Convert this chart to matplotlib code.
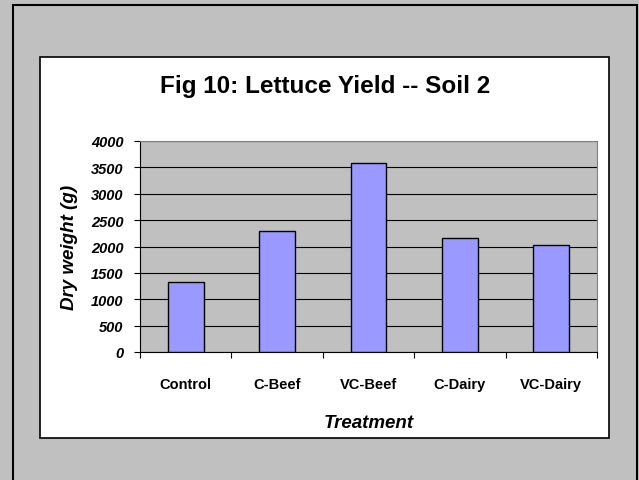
import matplotlib
matplotlib.use('Agg')
import matplotlib.pyplot as plt
from matplotlib.patches import Rectangle

treatments = ['Control', 'C-Beef', 'VC-Beef', 'C-Dairy', 'VC-Dairy']
dry_weight = [1330, 2300, 3590, 2160, 2030]
y_ticks = [0, 500, 1000, 1500, 2000, 2500, 3000, 3500, 4000]

plt.rcParams['font.family'] = ['Liberation Sans', 'DejaVu Sans']

W, H = 639, 481
fig = plt.figure(figsize=(W / 100, H / 100), dpi=100)
fig.patch.set_facecolor('#C0C0C0')

# outer frame and white chart area (pixel coords -> figure fraction)
def box(x0, y0, x1, y1, **kw):
    return Rectangle((x0 / W, 1 - y1 / H), (x1 - x0) / W, (y1 - y0) / H,
                     transform=fig.transFigure, zorder=-5, **kw)

fig.patches.append(box(13, 6, 637, 490, facecolor='none', edgecolor='black', lw=1.5))
fig.patches.append(box(40, 58, 609, 439, facecolor='white', edgecolor='black', lw=1.2))

ax = fig.add_axes([140 / W, 1 - 353 / H, (597 - 140) / W, (353 - 142) / H])
ax.set_facecolor('#C0C0C0')

x = range(len(treatments))
ax.bar(x, dry_weight, width=0.39, color='#9999FF', edgecolor='black', linewidth=1.0, zorder=3)

ax.set_xlim(-0.5, len(treatments) - 0.5)
ax.set_ylim(0, 4000)
ax.set_yticks(y_ticks)
ax.set_yticklabels([str(v) for v in y_ticks], fontsize=10.5, fontweight='bold', fontstyle='italic')
ax.yaxis.grid(True, color='black', linewidth=0.8, zorder=1)
ax.set_axisbelow(True)

ax.set_xticks([i + 0.5 for i in range(-1, len(treatments))])
ax.set_xticklabels([])
ax.set_xticks(list(x), minor=True)
ax.set_xticklabels(treatments, minor=True, fontsize=10.5, fontweight='bold')
ax.tick_params(axis='x', which='minor', length=0, pad=18)
ax.tick_params(axis='x', which='major', direction='out', length=4, width=0.8)
ax.tick_params(axis='y', direction='out', length=4, width=0.8, pad=8)

for s in ['top', 'right']:
    ax.spines[s].set_color('#808080')
for s in ['left', 'bottom']:
    ax.spines[s].set_color('black')

ax.set_xlabel('Treatment', fontsize=13.5, fontweight='bold', fontstyle='italic', va='center')
ax.set_ylabel('Dry weight (g)', fontsize=13.5, fontweight='bold', fontstyle='italic', va='center')
ax.xaxis.set_label_coords(0.5, -(424 - 353) / 211)
ax.yaxis.set_label_coords(-(140 - 70) / 457, 0.5)

fig.text(325 / W, 1 - 87 / H, 'Fig 10: Lettuce Yield -- Soil 2', ha='center', va='center',
         fontsize=17.5, fontweight='bold')

fig.savefig('out.png', dpi=100, facecolor=fig.get_facecolor())
